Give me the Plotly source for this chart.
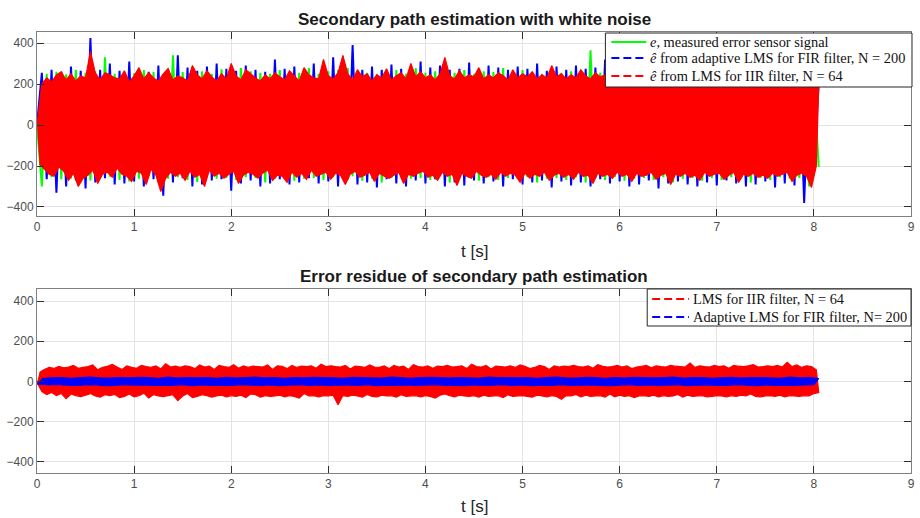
import numpy as np
import plotly.graph_objects as go

# ---------------- data (peak values) ----------------
T_END = 8.05  # signal length [s]

# top panel: e (green), e_hat FIR (blue), e_hat IIR (red) -- alternating peak samples
red_top = [
    0, -190, 200, -215, 230, -240, 210, -250, 245, -205, 260, -225, 220, -270, 250, -235, 215, -300, 240, -260,
    230, -245, 360, -220, 255, -285, 220, -240, 255, -230, 245, -255, 230, -210, 225, -240, 265, -250, 210, -275,
    240, -225, 280, -235, 225, -290, 255, -215, 230, -245, 215, -325, 250, -260, 275, -230, 220, -250, 240, -235,
    230, -270, 215, -225, 290, -255, 245, -240, 225, -300, 265, -220, 235, -250, 215, -235, 250, -260, 225, -240,
    300, -225, 240, -285, 220, -245, 270, -230, 250, -240, 230, -260, 215, -235, 245, -220, 225, -270, 255, -245,
    235, -250, 220, -280, 265, -230, 240, -255, 215, -235, 280, -265, 245, -220, 230, -250, 225, -240, 320, -230,
    240, -265, 225, -235, 255, -245, 340, -290, 250, -240, 220, -225, 270, -255, 235, -245, 250, -230, 215, -275,
    245, -235, 230, -250, 275, -260, 220, -245, 240, -230, 255, -285, 225, -240, 300, -250, 235, -235, 260, -225,
    230, -255, 245, -245, 220, -270, 250, -230, 330, -250, 240, -240, 225, -295, 265, -235, 230, -250, 245, -260,
    235, -225, 280, -245, 225, -255, 245, -240, 230, -265, 255, -230, 240, -250, 220, -235, 270, -245, 230, -280,
    250, -235, 235, -260, 260, -240, 225, -250, 245, -230, 230, -270, 290, -245, 235, -235, 250, -255, 225, -240,
    245, -265, 230, -230, 270, -250, 240, -245, 225, -285, 255, -235, 235, -250, 245, -240, 230, -260, 265, -230,
    225, -250, 250, -240, 235, -275, 240, -235, 280, -250, 230, -245, 245, -230, 225, -265, 255, -245, 240, -235,
    230, -290, 245, -240, 225, -250, 265, -235, 235, -255, 250, -245, 220, -270, 240, -230, 310, -250, 235, -240,
    245, -235, 230, -265, 255, -245, 225, -230, 240, -280, 235, -240, 270, -250, 230, -235, 245, -255, 225, -245,
    250, -260, 240, -235, 225, -250, 260, -240, 235, -230, 245, -275, 230, -245, 255, -235, 225, -250, 240, -305,
    215, -200, 195,
]

blue_top = [
    0, 255, -265, 270, -330, 260, -300, 285, -270, 265, -310, 425, -280, 270, -260, 300, -290, 265, -285, 310,
    -275, 270, -300, 260, -265, 290, -345, 275, -280, 340, -260, 280, -300, 265, -290, 285, -270, 300, -265, 275,
    -320, 265, -285, 290, -270, 270, -300, 260, -285, 320, -265, 275, -290, 285, -280, 270, -260, 300, -285, 265,
    -275, 330, -300, 280, -265, 390, -290, 270, -280, 285, -305, 270, -265, 295, -285, 275, -300, 265, -270, 310,
    -285, 280, -265, 290, -300, 270, -280, 275, -295, 305, -270, 265, -285, 290, -275, 280, -300, 270, -265, 285,
    -290, 275, -280, 300, -270, 265, -305, 285, -275, 270, -295, 290, -280, 275, -300, 280, -265, 320, -285, 270,
    -275, 285, -300, 280, -290, 275, -270, 290, -310, 270, -285, 300, -275, 280, -290, 265, -300, 285, -280, 275,
    -295, 280, -270, 290, -285, 275, -300, 270, -290, 285, -275, 300, -305, 280, -285, 270, -295, 275, -380, 265,
    -200, 205,
]

green_top = [
    0, -300, 250, -255, 260, -265, 248, -262, 270, -250, 255, -270, 262, -258, 330, -252, 250, -268, 258, -275,
    252, -262, 268, -250, 258, -280, 245, -262, 340, -255, 258, -268, 250, -278, 262, -255, 250, -262, 272, -258,
    250, -268, 278, -255, 262, -258, 255, -280, 250, -262, 268, -250, 258, -272, 255, -262, 278, -258, 250, -268,
    262, -255, 268, -258, 278, -250, 258, -272, 255, -262, 250, -280, 262, -258, 268, -255, 250, -262, 278, -258,
    255, -268, 262, -250, 258, -280, 255, -262, 268, -258, 250, -272, 262, -255, 258, -268, 278, -258, 255, -262,
    268, -255, 258, -280, 250, -262, 272, -258, 255, -268, 262, -255, 258, -280, 365, -258, 255, -268, 262, -255,
    258, -272, 250, -262, 278, -258, 255, -268, 262, -255, 258, -280, 268, -262, 255, -258, 250, -272, 262, -258,
    255, -268, 278, -255, 258, -262, 250, -280, 262, -258, 255, -268, 258, -255, 272, -262, 250, -258, 268, -300,
    210, -205,
]

# bottom panel: residues
red_bot = [
    -5, 45, -50, 60, -65, 70, -55, 65, -70, 75, -60, 68, -85, 72, -62, 80, -70, 66, -75, 70,
    -68, 74, -60, 82, -72, 58, -78, 70, -66, 76, -70, 85, -64, 72, -80, 60, -74, 78, -62, 70,
    -76, 66, -70, 80, -58, 74, -82, 70, -65, 78, -72, 62, -75, 88, -70, 72, -66, 76, -95, 70,
    -72, 78, -60, 74, -80, 64, -74, 82, -66, 72, -70, 76, -78, 60, -72, 80, -68, 74, -76, 70,
    -70, 84, -74, 66, -68, 78, -80, 70, -62, 76, -66, 74, -78, 72, -70, 82, -74, 60, -72, 78,
    -68, 75, -76, 64, -70, 80, -74, 70, -82, 76, -60, 74, -72, 78, -70, 66, -76, 86, -70, 74,
    -72, 78, -68, 74, -115, 72, -70, 80, -74, 62, -68, 76, -72, 74, -78, 70, -64, 82, -74, 72,
    -76, 70, -68, 78, -72, 64, -70, 80, -78, 72, -66, 76, -74, 60, -72, 84, -70, 74, -76, 72,
    -70, 78, -74, 66, -82, 76, -68, 74, -62, 80, -70, 72, -76, 74, -68, 78, -72, 64, -74, 86,
    -70, 74, -78, 72, -68, 80, -74, 62, -72, 76, -70, 74, -80, 72, -66, 78, -74, 70, -72, 82,
    -70, 76, -74, 64, -78, 70, -68, 80, -72, 74, -76, 60, -70, 78, -74, 72, -88, 76, -70, 74,
    -72, 80, -64, 74, -76, 72, -68, 78, -74, 66, -72, 84, -70, 76, -78, 72, -62, 74, -76, 80,
    -68, 72, -74, 78, -70, 64, -80, 72, -72, 76, -70, 80, -74, 68, -68, 78, -76, 74, -70, 72,
    -74, 80, -72, 76, -64, 74, -78, 72, -68, 92, -74, 70, -72, 78, -70, 74, -76, 72, -74, 80,
    -70, 74, -72, 78, -76, 66, -70, 80, -74, 76, -68, 74, -72, 78, -62, 84, -74, 72, -76, 74,
    -72, 78, -70, 74, -74, 80, -68, 72, -76, 95, -70, 74, -72, 82, -74, 70, -70, 78, -72, 74,
    -60, 58, -55,
]

blue_bot = [
    -12, 14, -16, 18, -15, 20, -18, 16, -20, 19, -17, 22, -16, 18, -21, 17, -19, 20, -16, 18,
    -18, 21, -17, 19, -20, 16, -18, 22, -19, 17, -16, 20, -21, 18, -17, 19, -20, 16, -18, 21,
    -19, 17, -16, 20, -18, 22, -20, 18, -17, 19, -21, 16, -18, 20, -16, 18, -19, 21, -17, 19,
    -20, 18, -18, 16, -17, 21, -19, 20, -16, 18, -21, 17, -18, 22, -20, 19, -17, 16, -19, 20,
    -18, 21, -16, 19, -20, 17, -18, 20, -21, 18, -17, 16, -19, 22, -18, 19, -16, 20, -20, 18,
    -17, 19, -21, 16, -18, 20, -19, 22, -16, 18, -20, 17, -18, 21, -17, 19, -19, 16, -21, 20,
    -18, 17, -16, 21, -20, 19, -17, 18, -19, 20, -18, 22, -16, 17, -21, 19, -18, 20, -17, 16,
    -20, 18, -19, 21, -16, 17, -18, 20, -21, 19, -17, 18, -20, 16, -18, 22, -19, 18, -17, 20,
    -16, 15,
]

x_ticks = [0, 1, 2, 3, 4, 5, 6, 7, 8, 9]
y_ticks = [-400, -200, 0, 200, 400]

top_title = "<b>Secondary path estimation with white noise</b>"
bot_title = "<b>Error residue of secondary path estimation</b>"
x_label = "t [s]"

leg_top = [
    "<i>e</i>, measured error sensor signal",
    "<i>ê</i> from adaptive LMS for FIR filter, N = 200",
    "<i>ê</i> from LMS for IIR filter, N = 64",
]
leg_bot = [
    "LMS for IIR filter, N = 64",
    "Adaptive LMS for FIR filter, N= 200",
]

GREEN, BLUE, RED = "#00ff00", "#0000ff", "#ff0000"

# ---------------- layout geometry (pixels of the 920x518 page) ----------------
W, H = 920, 518
ML, MR, MT, MB = 37, 5, 32, 45
PW, PH = W - ML - MR, H - MT - MB


def px(x):  # page pixel -> paper x
    return (x - ML) / PW


def py(y):  # page pixel -> paper y
    return (H - MB - y) / PH


TOP_LO, BOT_HI = py(216), py(289)


def tgrid(v):
    return np.linspace(0, T_END, len(v))


def band(vals, first_up):
    """Dense signal drawn as its peak envelope: upper peaks out, lower peaks back."""
    t = tgrid(vals)
    v = np.asarray(vals, dtype=float)
    a, b = (0, 1) if first_up else (1, 0)
    xs = np.concatenate([t[a::2], t[b::2][::-1]])
    ys = np.concatenate([v[a::2], v[b::2][::-1]])
    return xs, ys


fig = go.Figure()

# top panel data (green under blue under red)
fig.add_trace(go.Scatter(x=tgrid(green_top), y=green_top, mode="lines",
                         line=dict(color=GREEN, width=2, simplify=False), showlegend=False, hoverinfo="skip"))
fig.add_trace(go.Scatter(x=tgrid(blue_top), y=blue_top, mode="lines",
                         line=dict(color=BLUE, width=2, simplify=False), showlegend=False, hoverinfo="skip"))
bx, by = band(red_top, first_up=True)
fig.add_trace(go.Scatter(x=bx, y=by, mode="lines", fill="toself", fillcolor=RED,
                         line=dict(color=RED, width=1.2, simplify=False), showlegend=False, hoverinfo="skip"))

# bottom panel data (red under blue)
bx, by = band(red_bot, first_up=False)
fig.add_trace(go.Scatter(x=bx, y=by, mode="lines", fill="toself", fillcolor=RED, xaxis="x2", yaxis="y2",
                         line=dict(color=RED, width=1.2, simplify=False), showlegend=False, hoverinfo="skip"))
bx, by = band(blue_bot, first_up=False)
fig.add_trace(go.Scatter(x=bx, y=by, mode="lines", fill="toself", fillcolor=BLUE, xaxis="x2", yaxis="y2",
                         line=dict(color=BLUE, width=1.2, simplify=False), showlegend=False, hoverinfo="skip"))

axis_common = dict(
    showline=True, linecolor="#808080", linewidth=1, mirror="ticks",
    ticks="inside", ticklen=7, tickcolor="#303030", tickwidth=1,
    showgrid=True, gridcolor="#e3e3e3", gridwidth=1, zeroline=False,
    tickfont=dict(family="Liberation Sans, Arial", size=12, color="#4d4d4d"),
)

# ---------------- legends (boxed, MATLAB style) ----------------
shapes = []
annotations = []
LEG_FONT = dict(family="Liberation Serif", size=14.4, color="#111111")


def add_legend(box, rows, sample_x, text_x, labels, colors, dashes):
    x0, x1, y0, y1 = box
    shapes.append(dict(type="rect", xref="paper", yref="paper", layer="above",
                       x0=px(x0), x1=px(x1), y0=py(y1), y1=py(y0),
                       fillcolor="white", line=dict(color="#262626", width=1)))
    for yy, lab, col, dsh in zip(rows, labels, colors, dashes):
        shapes.append(dict(type="line", xref="paper", yref="paper", layer="above",
                           x0=px(sample_x[0]), x1=px(sample_x[1]), y0=py(yy), y1=py(yy),
                           line=dict(color=col, width=2, dash=dsh)))
        annotations.append(dict(text=lab, x=px(text_x), y=py(yy), xref="paper", yref="paper",
                                xanchor="left", yanchor="middle", showarrow=False, font=LEG_FONT))


add_legend((608, 916, 33, 87), [42, 58, 76], (614, 649), 651, leg_top,
           [GREEN, BLUE, RED], ["solid", "8px,4px", "8px,4px"])
add_legend((650, 915, 289, 326), [299, 317], (655, 692), 694, leg_bot,
           [RED, BLUE], ["8px,4px", "8px,4px"])

TITLE_FONT = dict(family="Liberation Sans, Arial", size=17, color="#1a1a1a")
LABEL_FONT = dict(family="Liberation Sans, Arial", size=17, color="#262626")
annotations += [
    dict(text=top_title, x=0.5, y=py(20), xref="paper", yref="paper", showarrow=False,
         yanchor="middle", font=TITLE_FONT),
    dict(text=bot_title, x=0.5, y=py(276), xref="paper", yref="paper", showarrow=False,
         yanchor="middle", font=TITLE_FONT),
    dict(text=x_label, x=0.5, y=py(251), xref="paper", yref="paper", showarrow=False,
         yanchor="middle", font=LABEL_FONT),
    dict(text=x_label, x=0.5, y=py(506), xref="paper", yref="paper", showarrow=False,
         yanchor="middle", font=LABEL_FONT),
]

fig.update_layout(
    width=W, height=H,
    margin=dict(l=ML, r=MR, t=MT, b=MB),
    paper_bgcolor="white", plot_bgcolor="white",
    showlegend=False,
    xaxis=dict(axis_common, domain=[0, 1], range=[0, 9], tickvals=x_ticks, anchor="y"),
    yaxis=dict(axis_common, domain=[TOP_LO, 1], range=[-444, 454], tickvals=y_ticks, anchor="x"),
    xaxis2=dict(axis_common, domain=[0, 1], range=[0, 9], tickvals=x_ticks, anchor="y2"),
    yaxis2=dict(axis_common, domain=[0, BOT_HI], range=[-455, 460], tickvals=y_ticks, anchor="x2"),
    shapes=shapes,
    annotations=annotations,
)

fig.write_html("out.html")
